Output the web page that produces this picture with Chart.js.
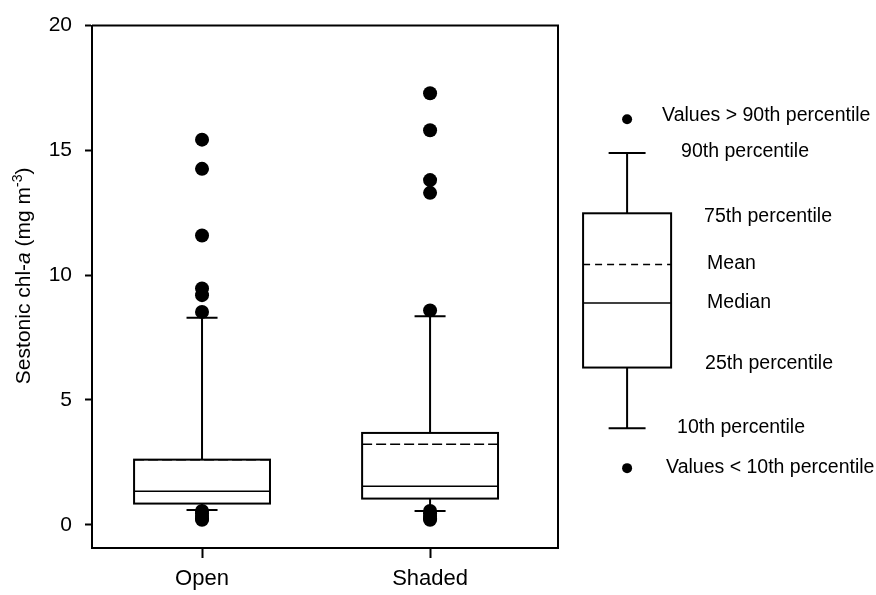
<!DOCTYPE html>
<html>
<head>
<meta charset="utf-8">
<script src="https://cdn.jsdelivr.net/npm/chart.js@4"></script>
<style>
  html, body { margin: 0; padding: 0; background: #fff; }
</style>
</head>
<body>
<canvas id="boxChart" width="876" height="595"></canvas>
<script>
// box statistics per category
const categories = ['Open', 'Shaded'];
const p10 = [0.59, 0.55];
const q1 = [0.85, 1.05];
const median = [1.34, 1.54];
const mean = [2.61, 3.23];
const q3 = [2.61, 3.68];
const p90 = [8.29, 8.36];
const outliersOpen = [15.43, 14.26, 11.59, 9.47, 9.2, 8.53, 0.55, 0.45, 0.35, 0.25, 0.2];
const outliersShaded = [17.29, 15.81, 13.81, 13.3, 8.59, 0.55, 0.45, 0.35, 0.25, 0.2];
const yTicks = [0, 5, 10, 15, 20];

// explanation key on the right
const keyLabels = ['Values > 90th percentile', '90th percentile', '75th percentile', 'Mean',
                   'Median', '25th percentile', '10th percentile', 'Values < 10th percentile'];
const keyValues = [16.25, 14.9, 12.48, 10.43, 8.89, 6.3, 3.87, 2.27];

const FONT = '"Liberation Sans", Arial, Helvetica, sans-serif';
const KEY_X = 2.864;

function drawBox(ctx, xs, ys, xc, halfBox, halfCap, s, dash) {
    const x = xs.getPixelForValue(xc);
    const bw = xs.getPixelForValue(xc + halfBox) - x;
    const cw = xs.getPixelForValue(xc + halfCap) - x;
    const Y = v => ys.getPixelForValue(v);
    ctx.save();
    ctx.strokeStyle = '#000';
    ctx.lineWidth = 2;
    ctx.beginPath();
    ctx.moveTo(x, Y(s.q3)); ctx.lineTo(x, Y(s.p90));
    ctx.moveTo(x - cw, Y(s.p90)); ctx.lineTo(x + cw, Y(s.p90));
    ctx.moveTo(x, Y(s.q1)); ctx.lineTo(x, Y(s.p10));
    ctx.moveTo(x - cw, Y(s.p10)); ctx.lineTo(x + cw, Y(s.p10));
    ctx.stroke();
    ctx.strokeRect(x - bw, Y(s.q3), 2 * bw, Y(s.q1) - Y(s.q3));
    ctx.lineWidth = 1.5;
    ctx.beginPath();
    ctx.moveTo(x - bw, Y(s.median)); ctx.lineTo(x + bw, Y(s.median));
    ctx.stroke();
    ctx.setLineDash(dash);
    ctx.beginPath();
    ctx.moveTo(x - bw, Y(s.mean)); ctx.lineTo(x + bw, Y(s.mean));
    ctx.stroke();
    ctx.restore();
}

const boxPlugin = {
    id: 'boxPlugin',
    beforeDatasetsDraw(chart) {
        const ctx = chart.ctx, xs = chart.scales.x, ys = chart.scales.y;
        categories.forEach((c, i) => {
            drawBox(ctx, xs, ys, i + 1, 0.298, 0.068,
                {p10: p10[i], q1: q1[i], median: median[i], mean: mean[i], q3: q3[i], p90: p90[i]}, [10, 4]);
        });
        drawBox(ctx, xs, ys, KEY_X, 0.193, 0.081,
            {p90: keyValues[1], q3: keyValues[2], mean: keyValues[3], median: keyValues[4], q1: keyValues[5], p10: keyValues[6]}, [7, 5]);

        const kx = xs.getPixelForValue(KEY_X);
        ctx.save();
        // key dots (outside the plot area, so points elements would be skipped)
        ctx.fillStyle = '#000';
        [keyValues[0], keyValues[7]].forEach(v => {
            ctx.beginPath();
            ctx.arc(kx, ys.getPixelForValue(v), 5, 0, Math.PI * 2);
            ctx.fill();
        });
        // key texts
        const dx = [35, 54, 77, 80, 80, 78, 50, 39];
        const dy = [-4, -1, 3, -1, 0, -4, -1, -1];
        ctx.font = '19.5px ' + FONT;
        ctx.textAlign = 'left';
        ctx.textBaseline = 'middle';
        keyLabels.forEach((t, i) => ctx.fillText(t, kx + dx[i], ys.getPixelForValue(keyValues[i]) + dy[i]));
        ctx.restore();
    },
    afterDraw(chart) {
        const ctx = chart.ctx, a = chart.chartArea;
        ctx.save();
        ctx.strokeStyle = '#000';
        ctx.lineWidth = 2;
        ctx.beginPath();
        ctx.moveTo(a.left, a.top); ctx.lineTo(a.right, a.top); ctx.lineTo(a.right, a.bottom);
        ctx.stroke();

        // y axis title with italic a and superscript
        const parts = [
            {t: 'Sestonic chl-', f: '21px ' + FONT, dy: 0},
            {t: 'a', f: 'italic 21px ' + FONT, dy: 0},
            {t: ' (mg m', f: '21px ' + FONT, dy: 0},
            {t: '-3', f: '14px ' + FONT, dy: -8},
            {t: ')', f: '21px ' + FONT, dy: 0}
        ];
        let w = 0;
        parts.forEach(p => { ctx.font = p.f; p.w = ctx.measureText(p.t).width; w += p.w; });
        ctx.translate(30, (a.top + a.bottom) / 2 - 11);
        ctx.rotate(-Math.PI / 2);
        ctx.fillStyle = '#000';
        ctx.textBaseline = 'alphabetic';
        ctx.textAlign = 'left';
        let x = -w / 2;
        parts.forEach(p => { ctx.font = p.f; ctx.fillText(p.t, x, p.dy); x += p.w; });
        ctx.restore();
    }
};

const pointStyle = {pointRadius: 7, pointHoverRadius: 7, backgroundColor: '#000', borderWidth: 0, showLine: false};

new Chart(document.getElementById('boxChart'), {
    type: 'scatter',
    data: {
        datasets: [
            Object.assign({label: 'Open', data: outliersOpen.map(v => ({x: 1, y: v}))}, pointStyle),
            Object.assign({label: 'Shaded', data: outliersShaded.map(v => ({x: 2, y: v}))}, pointStyle)
        ]
    },
    options: {
        responsive: false,
        devicePixelRatio: 1,
        animation: false,
        layout: {padding: {left: 0, right: 318, top: 23, bottom: 0}},
        plugins: {legend: {display: false}, tooltip: {enabled: false}},
        scales: {
            x: {
                type: 'linear',
                min: 0.5175,
                max: 2.561,
                afterBuildTicks: s => { s.ticks = categories.map((c, i) => ({value: i + 1})); },
                afterFit: s => { s.height = 47; },
                ticks: {
                    callback: v => categories[v - 1],
                    color: '#000',
                    font: {family: FONT, size: 22},
                    padding: 8,
                    maxRotation: 0
                },
                grid: {display: true, drawOnChartArea: false, drawTicks: true, tickLength: 10, tickColor: '#000', tickWidth: 2},
                border: {display: true, color: '#000', width: 2}
            },
            y: {
                min: -0.93,
                max: 20,
                afterBuildTicks: s => { s.ticks = yTicks.map(v => ({value: v})); },
                afterFit: s => { s.width = 92; },
                ticks: {
                    color: '#000',
                    font: {family: FONT, size: 21},
                    padding: 13
                },
                grid: {display: true, drawOnChartArea: false, drawTicks: true, tickLength: 7, tickColor: '#000', tickWidth: 2},
                border: {display: true, color: '#000', width: 2}
            }
        }
    },
    plugins: [boxPlugin]
});
</script>
</body>
</html>
